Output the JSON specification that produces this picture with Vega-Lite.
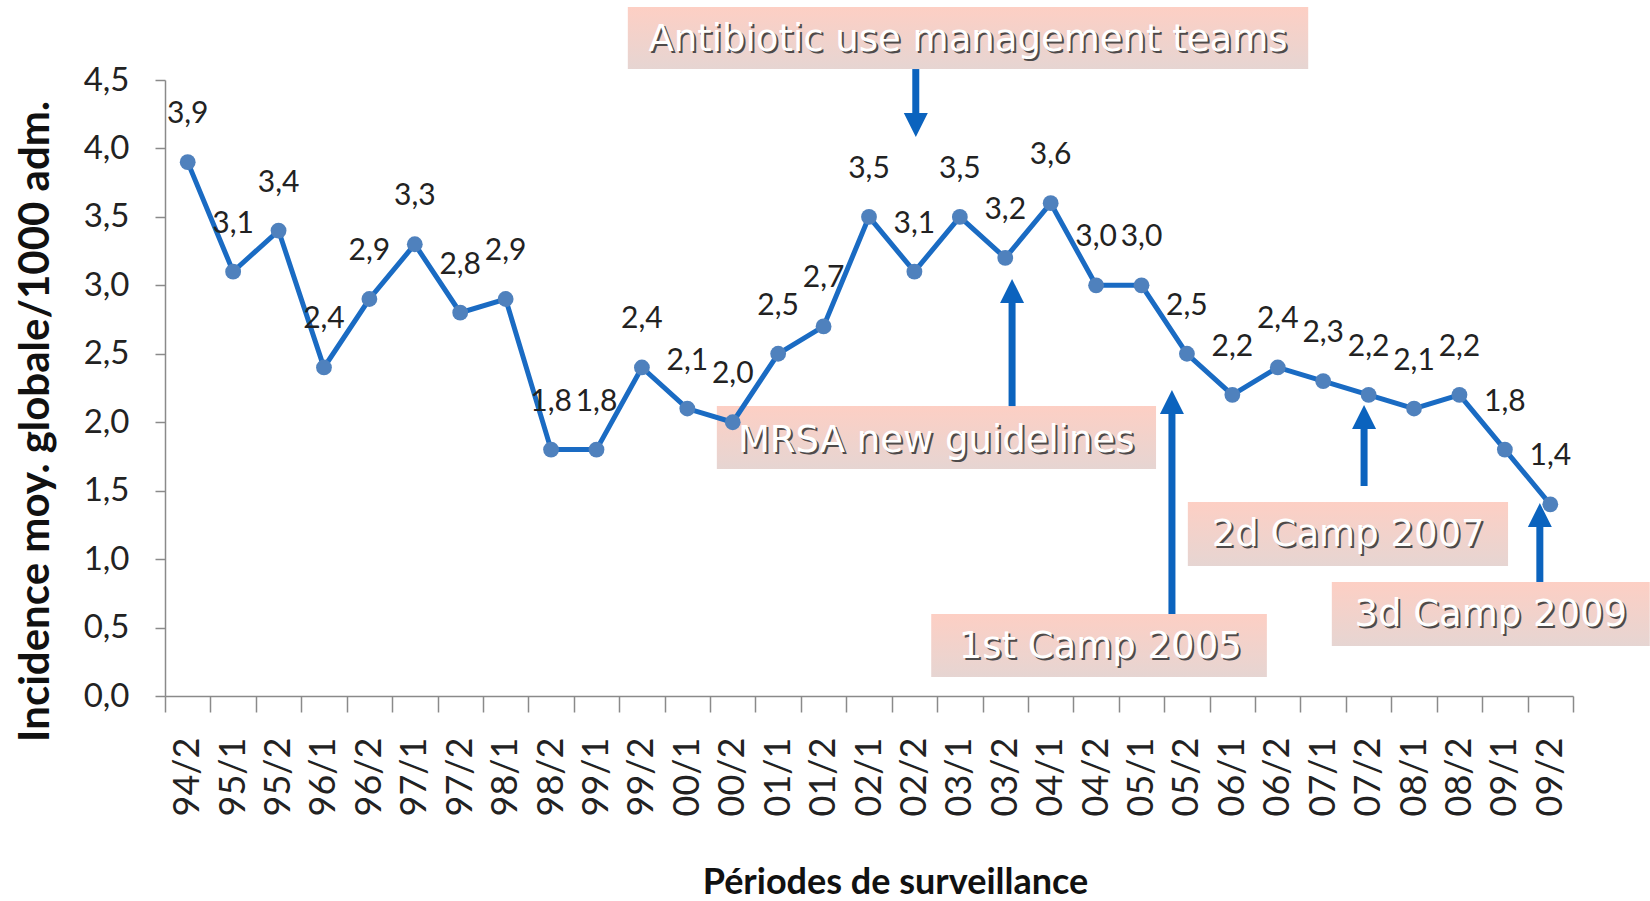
{
  "$schema": "https://vega.github.io/schema/vega-lite/v6.json",
  "width": 1408,
  "height": 616,
  "autosize": {"type": "none"},
  "padding": {"left": 165, "top": 80, "right": 77, "bottom": 205},
  "background": "white",
  "config": {
    "view": {"stroke": null},
    "locale": {"number": {"decimal": ",", "thousands": " ", "grouping": [3], "currency": ["", " €"]}}
  },
  "datasets": {
    "series": [
      {"period": "94/2", "value": 3.9}, {"period": "95/1", "value": 3.1}, {"period": "95/2", "value": 3.4},
      {"period": "96/1", "value": 2.4}, {"period": "96/2", "value": 2.9}, {"period": "97/1", "value": 3.3},
      {"period": "97/2", "value": 2.8}, {"period": "98/1", "value": 2.9}, {"period": "98/2", "value": 1.8},
      {"period": "99/1", "value": 1.8}, {"period": "99/2", "value": 2.4}, {"period": "00/1", "value": 2.1},
      {"period": "00/2", "value": 2.0}, {"period": "01/1", "value": 2.5}, {"period": "01/2", "value": 2.7},
      {"period": "02/1", "value": 3.5}, {"period": "02/2", "value": 3.1}, {"period": "03/1", "value": 3.5},
      {"period": "03/2", "value": 3.2}, {"period": "04/1", "value": 3.6}, {"period": "04/2", "value": 3.0},
      {"period": "05/1", "value": 3.0}, {"period": "05/2", "value": 2.5}, {"period": "06/1", "value": 2.2},
      {"period": "06/2", "value": 2.4}, {"period": "07/1", "value": 2.3}, {"period": "07/2", "value": 2.2},
      {"period": "08/1", "value": 2.1}, {"period": "08/2", "value": 2.2}, {"period": "09/1", "value": 1.8},
      {"period": "09/2", "value": 1.4}
    ],
    "boxes": [
      {"label": "Antibiotic use management teams", "u1": 9.69, "u2": 24.67, "v1": 5.033, "v2": 4.58, "uc": 17.18, "vc": 4.79},
      {"label": "MRSA new guidelines", "u1": 11.65, "u2": 21.32, "v1": 2.118, "v2": 1.658, "uc": 16.48, "vc": 1.86},
      {"label": "1st Camp 2005", "u1": 16.37, "u2": 23.76, "v1": 0.599, "v2": 0.139, "uc": 20.09, "vc": 0.355},
      {"label": "2d Camp 2007", "u1": 22.02, "u2": 29.07, "v1": 1.417, "v2": 0.95, "uc": 25.55, "vc": 1.173},
      {"label": "3d Camp 2009", "u1": 25.19, "u2": 32.19, "v1": 0.833, "v2": 0.365, "uc": 28.69, "vc": 0.589}
    ],
    "arrows": [
      {"u": 16.03, "vbase": 4.58, "vhead": 4.171, "dir": "down"},
      {"u": 18.15, "vbase": 2.118, "vhead": 2.959, "dir": "up"},
      {"u": 21.67, "vbase": 0.599, "vhead": 2.148, "dir": "up"},
      {"u": 25.9, "vbase": 1.534, "vhead": 2.038, "dir": "up"},
      {"u": 29.77, "vbase": 0.833, "vhead": 1.322, "dir": "up"}
    ]
  },
  "layer": [
    {
      "data": {"name": "boxes"},
      "mark": {"type": "rect", "fill": {"gradient": "linear", "x1": 0, "y1": 0, "x2": 0, "y2": 1, "stops": [{"offset": 0, "color": "#fdcfc4"}, {"offset": 1, "color": "#e6d5d2"}]}},
      "encoding": {
        "x": {"field": "u1", "type": "quantitative", "scale": {"domain": [-0.5, 30.5], "nice": false, "zero": false}, "axis": null},
        "x2": {"field": "u2"},
        "y": {"field": "v1", "type": "quantitative", "axis": null},
        "y2": {"field": "v2"}
      }
    },
    {
      "data": {"name": "series"},
      "layer": [
        {
          "mark": {"type": "line", "color": "#1a6bc3", "strokeWidth": 5},
          "encoding": {
            "x": {"field": "period", "type": "ordinal", "sort": null,
                  "scale": {"type": "band", "paddingInner": 0, "paddingOuter": 0},
                  "axis": {"title": "Périodes de surveillance", "labelAngle": 270, "tickBand": "extent",
                           "tickSize": 16, "labelPadding": 25, "labelFont": "Lato", "labelFontSize": 36,
                           "labelColor": "#222", "domainColor": "#8a8a8a", "tickColor": "#8a8a8a",
                           "domainWidth": 1.5, "tickWidth": 1.5,
                           "titleFont": "Lato", "titleFontSize": 36, "titleFontWeight": "bold",
                           "titleColor": "#111", "titlePadding": 50, "titleX": 730}},
            "y": {"field": "value", "type": "quantitative",
                  "scale": {"domain": [0, 4.5], "nice": false},
                  "axis": {"title": "Incidence moy. globale/1000 adm.", "values": [0, 0.5, 1, 1.5, 2, 2.5, 3, 3.5, 4, 4.5],
                           "format": ".1f", "grid": false, "tickSize": 10, "labelPadding": 26,
                           "labelFont": "Lato", "labelFontSize": 33, "labelColor": "#222",
                           "domainColor": "#8a8a8a", "tickColor": "#8a8a8a", "domainWidth": 1.5, "tickWidth": 1.5,
                           "titleFont": "Lato", "titleFontSize": 42, "titleFontWeight": "bold",
                           "titleColor": "#111", "titlePadding": 26, "titleY": 341}}
          }
        },
        {
          "mark": {"type": "circle", "color": "#4f81bd", "opacity": 1, "size": 250},
          "encoding": {
            "x": {"field": "period", "type": "ordinal", "sort": null},
            "y": {"field": "value", "type": "quantitative"}
          }
        },
        {
          "mark": {"type": "text", "font": "Lato", "fontSize": 30, "color": "#222", "baseline": "alphabetic", "dy": -39},
          "encoding": {
            "x": {"field": "period", "type": "ordinal", "sort": null},
            "y": {"field": "value", "type": "quantitative"},
            "text": {"field": "value", "type": "quantitative", "format": ".1f"}
          }
        }
      ]
    },
    {
      "data": {"name": "boxes"},
      "layer": [
        {
          "mark": {"type": "text", "font": "DejaVu Sans", "fontSize": 37, "color": "#333333", "opacity": 0.85, "dx": 2, "dy": 2, "baseline": "middle"},
          "encoding": {
            "x": {"field": "uc", "type": "quantitative", "scale": {"domain": [-0.5, 30.5], "nice": false, "zero": false}, "axis": null},
            "y": {"field": "vc", "type": "quantitative", "axis": null},
            "text": {"field": "label"}
          }
        },
        {
          "mark": {"type": "text", "font": "DejaVu Sans", "fontSize": 37, "color": "#ffffff", "baseline": "middle"},
          "encoding": {
            "x": {"field": "uc", "type": "quantitative", "axis": null},
            "y": {"field": "vc", "type": "quantitative", "axis": null},
            "text": {"field": "label"}
          }
        }
      ]
    },
    {
      "data": {"name": "arrows"},
      "layer": [
        {
          "mark": {"type": "rule", "color": "#0b63be", "strokeWidth": 7},
          "encoding": {
            "x": {"field": "u", "type": "quantitative", "scale": {"domain": [-0.5, 30.5], "nice": false, "zero": false}, "axis": null},
            "y": {"field": "vbase", "type": "quantitative", "axis": null},
            "y2": {"field": "vhead"}
          }
        },
        {
          "mark": {"type": "point", "filled": true, "color": "#0b63be", "opacity": 1, "size": 576, "strokeWidth": 0},
          "encoding": {
            "x": {"field": "u", "type": "quantitative", "axis": null},
            "y": {"field": "vhead", "type": "quantitative", "axis": null},
            "shape": {"field": "dir", "type": "nominal", "legend": null,
                      "scale": {"domain": ["up", "down"], "range": ["M-1,1L1,1L0,-1Z", "M-1,-1L1,-1L0,1Z"]}}
          }
        }
      ]
    }
  ],
  "resolve": {"scale": {"x": "independent"}, "axis": {"x": "independent", "y": "independent"}}
}
